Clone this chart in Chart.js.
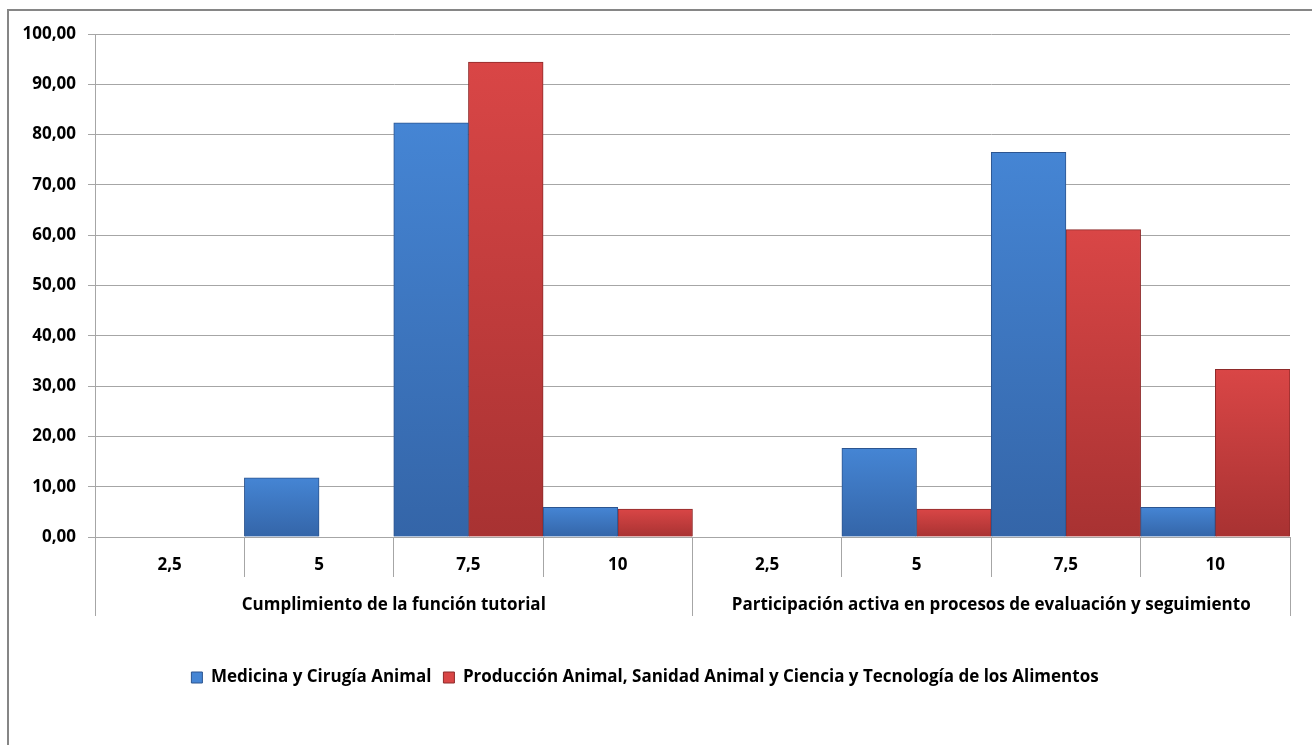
<!DOCTYPE html>
<html>
<head>
<meta charset="utf-8">
<script src="https://cdn.jsdelivr.net/npm/chart.js@4.4.1/dist/chart.umd.min.js"></script>
<style>
  html, body { margin: 0; padding: 0; background: #fff; overflow: hidden; }
  #frame { position: absolute; left: 7px; top: 9px; width: 1400px; height: 800px;
           border-top: 2px solid #868686; border-left: 2px solid #868686; }
  #wrap { position: absolute; left: 0; top: 0; width: 1312px; height: 745px; }
</style>
</head>
<body>
<div id="frame"></div>
<div id="wrap"><canvas id="c" width="1312" height="745"></canvas></div>
<script>
const groups = ["Cumplimiento de la función tutorial", "Participación activa en procesos de evaluación y seguimiento"];
const categories = ["2,5", "5", "7,5", "10", "2,5", "5", "7,5", "10"];
const seriesNames = ["Medicina y Cirugía Animal", "Producción Animal, Sanidad Animal y Ciencia y Tecnología de los Alimentos"];
const medicina = [0, 11.76, 82.35, 5.88, 0, 17.65, 76.47, 5.88];
const produccion = [0, 0, 94.44, 5.56, 0, 5.56, 61.11, 33.33];
const yTicks = [0, 10, 20, 30, 40, 50, 60, 70, 80, 90, 100];

const FONT = "'Open Sans', Lato, sans-serif";
const FS = 17;

function barGradient(light, dark) {
  return function (ctx) {
    const chart = ctx.chart;
    const area = chart.chartArea;
    if (!area || ctx.raw === undefined) return dark;
    const yScale = chart.scales.y;
    const top = yScale.getPixelForValue(ctx.raw);
    const bottom = yScale.getPixelForValue(0);
    if (!(bottom - top > 1)) return light;
    const g = chart.ctx.createLinearGradient(0, top, 0, bottom);
    g.addColorStop(0, light);
    g.addColorStop(1, dark);
    return g;
  };
}

new Chart(document.getElementById('c'), {
  type: 'bar',
  data: {
    labels: categories,
    datasets: [
      {
        label: seriesNames[0],
        data: medicina,
        backgroundColor: barGradient('#4585d4', '#3465a8'),
        borderColor: '#2c5590',
        borderWidth: 1,
        barPercentage: 1.0,
        categoryPercentage: 1.0
      },
      {
        label: seriesNames[1],
        data: produccion,
        backgroundColor: barGradient('#d94646', '#a83232'),
        borderColor: '#8e2a2a',
        borderWidth: 1,
        barPercentage: 1.0,
        categoryPercentage: 1.0
      }
    ]
  },
  options: {
    responsive: false,
    animation: false,
    maintainAspectRatio: false,
    layout: { padding: { left: 0, right: 22, top: 34, bottom: 49 } },
    plugins: {
      tooltip: { enabled: false },
      legend: {
        position: 'bottom',
        labels: {
          boxWidth: 11,
          boxHeight: 11,
          padding: 12,
          color: '#000',
          font: { family: FONT, size: FS, weight: 'bold' }
        }
      }
    },
    scales: {
      x: {
        type: 'category',
        position: 'bottom',
        grid: { display: true, drawOnChartArea: false, offset: true, color: '#a6a6a6', tickLength: 40 },
        border: { display: true, color: '#a6a6a6' },
        ticks: { color: '#000', padding: -22, maxRotation: 0, autoSkip: false,
                 font: { family: FONT, size: FS, weight: 'bold' } },
        afterFit: s => { s.height = 40; }
      },
      x2: {
        type: 'category',
        position: 'bottom',
        labels: groups,
        offset: true,
        grid: { display: true, drawOnChartArea: false, offset: true, color: '#a6a6a6', tickLength: 39 },
        border: { display: false },
        ticks: { color: '#000', padding: -21, maxRotation: 0, autoSkip: false,
                 font: { family: FONT, size: FS, weight: 'bold' } },
        afterFit: s => { s.height = 80; }
      },
      y: {
        min: 0,
        max: 100,
        afterBuildTicks: s => { s.ticks = yTicks.map(v => ({ value: v })); },
        grid: { color: '#a6a6a6', tickLength: 7 },
        border: { display: true, color: '#a6a6a6' },
        ticks: {
          color: '#000',
          padding: 12,
          font: { family: FONT, size: FS, weight: 'bold' },
          callback: v => Number(v).toFixed(2).replace('.', ',')
        },
        afterFit: s => { s.width = 95; }
      }
    }
  }
});
</script>
</body>
</html>
